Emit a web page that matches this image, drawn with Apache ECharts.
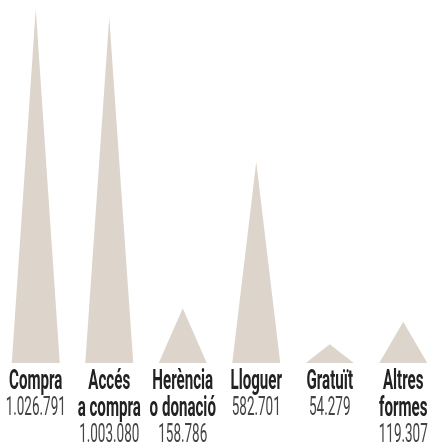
<!DOCTYPE html>
<html>
<head>
<meta charset="utf-8">
<script src="https://cdn.jsdelivr.net/npm/echarts@6/dist/echarts.min.js"></script>
<style>html,body{margin:0;padding:0;background:#fff;}#c{width:428px;height:447px;}</style>
</head>
<body>
<div id="c"></div>
<script>
const categories = ['Compra', 'Accés\na compra', 'Herència\no donació', 'Lloguer', 'Gratuït', 'Altres\nformes'];
const values = [1026791, 1003080, 158786, 582701, 54279, 119307];
const valueLabels = ['1.026.791', '1.003.080', '158.786', '582.701', '54.279', '119.307'];

const chart = echarts.init(document.getElementById('c'), null, {renderer: 'canvas'});
const NAME_FONT = 'bold 27px Roboto';
const NUM_FONT = 'normal 25px Roboto';
const NAME_SX = 0.56;
const NUM_SX = 0.54;
chart.setOption({
  animation: false,
  backgroundColor: '#ffffff',
  grid: {left: -1, top: 9, width: 441, bottom: 84, outerBoundsMode: 'none', containLabel: false},
  xAxis: {type: 'category', data: categories, show: false, boundaryGap: true},
  yAxis: {type: 'value', min: 0, max: 'dataMax', show: false},
  series: [
    {
      type: 'pictorialBar',
      data: values,
      symbol: 'triangle',
      symbolSize: [48, '100%'],
      itemStyle: {color: '#ddd5cc'},
      silent: true
    },
    {
      type: 'custom',
      silent: true,
      clip: false,
      data: categories.map((c, i) => [i, 0]),
      renderItem: function (params, api) {
        const i = params.dataIndex;
        const p = api.coord([api.value(0), 0]);
        const lines = categories[i].split('\n');
        const children = [];
        let y = p[1] + 19.5;
        lines.forEach(function (t) {
          children.push({type: 'text', x: p[0], y: y, scaleX: NAME_SX,
            style: {text: t, font: NAME_FONT, fill: '#222222', align: 'center', verticalAlign: 'middle'}});
          y += 26.5;
        });
        children.push({type: 'text', x: p[0], y: y, scaleX: NUM_SX,
          style: {text: valueLabels[i], font: NUM_FONT, fill: '#444444', align: 'center', verticalAlign: 'middle'}});
        return {type: 'group', children: children};
      }
    }
  ]
});
</script>
</body>
</html>
